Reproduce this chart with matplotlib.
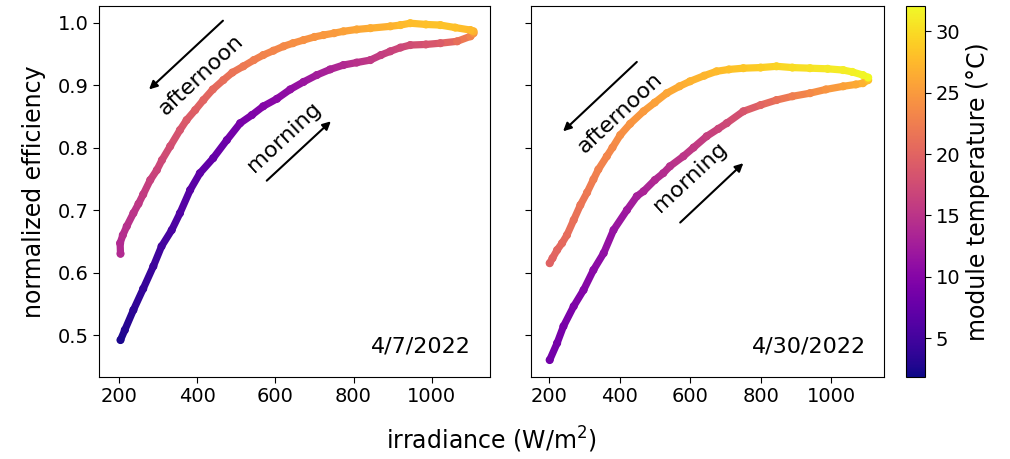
import numpy as np
import matplotlib
matplotlib.use("Agg")
import matplotlib.pyplot as plt
from matplotlib.collections import LineCollection
from matplotlib.colors import Normalize

# ---------------- data ----------------
# Day 1: 4/7/2022
d1_morning_irr = [204, 215, 237, 262, 288, 309, 335, 356, 382, 407, 441, 476, 510, 540,
                  569, 604, 638, 672, 706, 740, 774, 808, 843, 870, 894, 920, 945, 985,
                  1022, 1065, 1099, 1107]
d1_morning_eff = [0.492, 0.508, 0.540, 0.574, 0.610, 0.642, 0.668, 0.695, 0.732, 0.759,
                  0.783, 0.812, 0.839, 0.852, 0.866, 0.878, 0.893, 0.905, 0.916, 0.925,
                  0.932, 0.936, 0.940, 0.948, 0.954, 0.960, 0.964, 0.965, 0.967, 0.970,
                  0.978, 0.983]
d1_morning_temp = [2.5, 3.0, 3.5, 4.0, 4.5, 5.0, 5.5, 6.0, 6.5, 7.0, 7.5, 8.2, 9.0, 9.5,
                   10.0, 10.5, 11.0, 11.8, 12.5, 13.2, 14.0, 14.8, 15.5, 16.0, 16.5, 17.0,
                   17.5, 18.2, 19.0, 21.0, 23.0, 24.5]

d1_afternoon_irr = [1107, 1099, 1060, 1022, 985, 945, 920, 894, 843, 808, 774, 750, 723,
                    700, 672, 645, 621, 595, 569, 545, 518, 490, 467, 440, 416, 395, 373,
                    356, 331, 310, 297, 280, 262, 250, 237, 220, 210, 203, 204]
d1_afternoon_eff = [0.986, 0.988, 0.992, 0.996, 0.997, 0.999, 0.996, 0.994, 0.991, 0.989,
                    0.986, 0.983, 0.980, 0.977, 0.972, 0.967, 0.962, 0.955, 0.948, 0.940,
                    0.930, 0.920, 0.908, 0.893, 0.876, 0.860, 0.844, 0.828, 0.802, 0.780,
                    0.764, 0.748, 0.725, 0.710, 0.695, 0.674, 0.660, 0.647, 0.630]
d1_afternoon_temp = [27.0, 27.5, 28.0, 28.2, 28.0, 27.8, 27.5, 27.0, 26.5, 26.0, 25.5,
                     25.0, 24.8, 24.5, 24.2, 24.0, 23.5, 23.2, 23.0, 22.5, 22.0, 21.5,
                     21.0, 20.5, 20.0, 19.5, 19.0, 18.5, 17.8, 17.2, 16.8, 16.3, 15.8,
                     15.4, 15.0, 14.6, 14.3, 14.0, 14.0]

# Day 2: 4/30/2022
d2_morning_irr = [202, 223, 241, 270, 298, 326, 355, 383, 421, 449, 468, 500, 524, 543,
                  581, 610, 647, 680, 704, 751, 800, 845, 890, 940, 985, 1034, 1070,
                  1090, 1105]
d2_morning_eff = [0.460, 0.487, 0.514, 0.546, 0.572, 0.604, 0.631, 0.668, 0.700, 0.722,
                  0.730, 0.748, 0.759, 0.770, 0.786, 0.800, 0.818, 0.830, 0.839, 0.858,
                  0.868, 0.876, 0.882, 0.887, 0.893, 0.898, 0.901, 0.903, 0.908]
d2_morning_temp = [8.5, 8.8, 9.0, 9.5, 10.0, 10.4, 11.0, 11.5, 12.2, 12.8, 13.2, 13.8,
                   14.2, 14.5, 15.2, 15.6, 16.2, 16.8, 17.2, 18.5, 20.0, 21.2, 22.5,
                   23.5, 24.5, 25.5, 26.2, 26.8, 28.0]

d2_afternoon_irr = [1105, 1090, 1060, 1034, 990, 940, 890, 845, 800, 751, 710, 675, 640,
                    600, 570, 534, 500, 468, 430, 402, 380, 364, 340, 326, 308, 289, 270,
                    251, 237, 223, 210, 202]
d2_afternoon_eff = [0.912, 0.916, 0.921, 0.924, 0.926, 0.927, 0.928, 0.930, 0.928, 0.927,
                    0.925, 0.922, 0.915, 0.906, 0.898, 0.887, 0.872, 0.858, 0.838, 0.820,
                    0.800, 0.786, 0.765, 0.749, 0.728, 0.708, 0.684, 0.660, 0.647, 0.636,
                    0.623, 0.615]
d2_afternoon_temp = [32.0, 31.8, 31.5, 31.2, 31.0, 30.5, 30.0, 29.5, 29.0, 28.5, 28.0,
                     27.6, 27.2, 27.0, 26.5, 26.0, 25.5, 25.0, 24.5, 24.0, 23.5, 23.2,
                     22.8, 22.5, 22.0, 21.6, 21.2, 20.8, 20.5, 20.2, 20.0, 19.8]

day_labels = ["4/7/2022", "4/30/2022"]
x_ticks = [200, 400, 600, 800, 1000]
y_ticks = [0.5, 0.6, 0.7, 0.8, 0.9, 1.0]
cbar_ticks = [5, 10, 15, 20, 25, 30]

# ---------------- figure ----------------
W, H = 1010, 459
fig = plt.figure(figsize=(W / 100, H / 100), dpi=100)


def px_axes(x0, x1, y_top, y_bot):
    return fig.add_axes([x0 / W, (H - y_bot) / H, (x1 - x0) / W, (y_bot - y_top) / H])


ax1 = px_axes(99, 490, 5.7, 376.7)
ax2 = px_axes(531, 883.7, 5.7, 376.7)
cax = px_axes(906, 925, 5.7, 376.7)

cmap = plt.get_cmap("plasma")
norm = Normalize(vmin=1.85, vmax=32.1)

TICK_FS = 14
LABEL_FS = 17
ANN_FS = 16

days = [
    (ax1, [(d1_morning_irr, d1_morning_eff, d1_morning_temp),
           (d1_afternoon_irr, d1_afternoon_eff, d1_afternoon_temp)]),
    (ax2, [(d2_morning_irr, d2_morning_eff, d2_morning_temp),
           (d2_afternoon_irr, d2_afternoon_eff, d2_afternoon_temp)]),
]

for ax, branches in days:
    for irr, eff, temp in branches:
        irr = np.asarray(irr, float)
        eff = np.asarray(eff, float)
        temp = np.asarray(temp, float)
        pts = np.column_stack([irr, eff]).reshape(-1, 1, 2)
        segs = np.concatenate([pts[:-1], pts[1:]], axis=1)
        lc = LineCollection(segs, cmap=cmap, norm=norm, linewidths=5.2,
                            capstyle="round", joinstyle="round")
        lc.set_array(0.5 * (temp[:-1] + temp[1:]))
        ax.add_collection(lc)
        ax.scatter(irr, eff, c=temp, cmap=cmap, norm=norm, s=34,
                   edgecolors="none", zorder=3)

for ax in (ax1, ax2):
    ax.set_xlim(149, 1149)
    ax.set_ylim(0.4333, 1.027)
    ax.set_xticks(x_ticks)
    ax.set_yticks(y_ticks)
    ax.tick_params(labelsize=TICK_FS, length=4)

ax2.set_yticklabels([])
ax1.set_ylabel("normalized efficiency", fontsize=LABEL_FS, labelpad=8)
fig.text((99 + 883.7) / 2 / W, (H - 440) / H, "irradiance (W/m$^2$)",
         ha="center", va="center", fontsize=LABEL_FS)

ax1.text(0.95, 0.055, day_labels[0], transform=ax1.transAxes, ha="right",
         va="bottom", fontsize=ANN_FS)
ax2.text(0.95, 0.055, day_labels[1], transform=ax2.transAxes, ha="right",
         va="bottom", fontsize=ANN_FS)

arrow_kw = dict(arrowstyle="-|>", color="black", lw=1.5, mutation_scale=12,
                shrinkA=0, shrinkB=0)

# annotations, day 1
ax1.annotate("", xy=(277, 0.893), xytext=(466, 1.003), arrowprops=arrow_kw)
ax1.text(410, 0.917, "afternoon", rotation=43, rotation_mode="anchor",
         ha="center", va="center", fontsize=ANN_FS)
ax1.annotate("", xy=(742, 0.842), xytext=(578, 0.747), arrowprops=arrow_kw)
ax1.text(622, 0.817, "morning", rotation=43, rotation_mode="anchor",
         ha="center", va="center", fontsize=ANN_FS)

# annotations, day 2
ax2.annotate("", xy=(240, 0.826), xytext=(449, 0.937), arrowprops=arrow_kw)
ax2.text(402, 0.856, "afternoon", rotation=43, rotation_mode="anchor",
         ha="center", va="center", fontsize=ANN_FS)
ax2.annotate("", xy=(751, 0.775), xytext=(572, 0.680), arrowprops=arrow_kw)
ax2.text(600, 0.752, "morning", rotation=43, rotation_mode="anchor",
         ha="center", va="center", fontsize=ANN_FS)

cb = fig.colorbar(plt.cm.ScalarMappable(norm=norm, cmap=cmap), cax=cax)
cb.set_ticks(cbar_ticks)
cb.ax.tick_params(labelsize=TICK_FS, length=4)
cb.set_label("module temperature (°C)", fontsize=LABEL_FS)

fig.savefig("out.png", dpi=100)
